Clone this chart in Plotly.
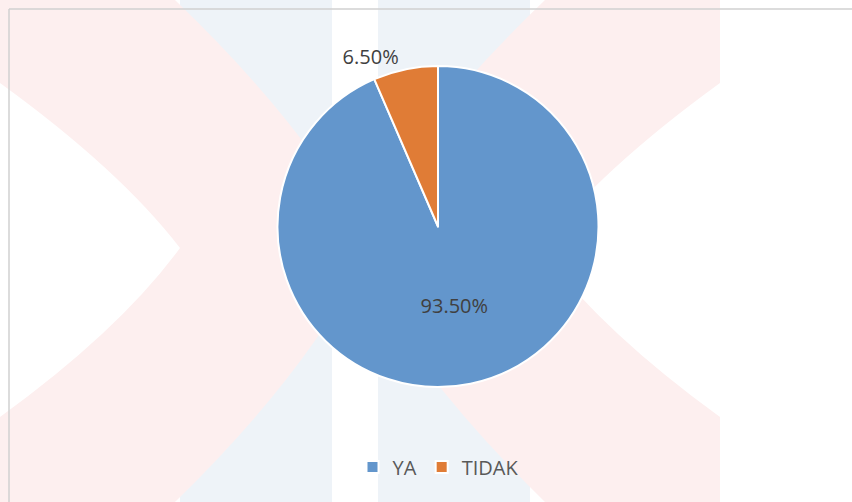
import plotly.graph_objects as go

# ---- data ----
categories = ["YA", "TIDAK"]
values = [93.5, 6.5]
labels = ["93.50%", "6.50%"]
colors = ["#6396CC", "#E07C36"]

W, H = 852, 502


def px(x):
    return x / W


def py(y):
    return 1 - y / H


fig = go.Figure()

fig.add_trace(go.Pie(
    labels=categories,
    values=values,
    text=labels,
    textinfo="text",
    texttemplate="%{text}",
    textposition=["inside", "outside"],
    sort=False,
    direction="clockwise",
    rotation=0,
    marker=dict(colors=colors, line=dict(color="white", width=2)),
    insidetextfont=dict(family="Open Sans", size=20, color="#404040"),
    outsidetextfont=dict(family="Open Sans", size=20, color="#404040"),
    domain=dict(x=[px(438 - 160.5), px(438 + 160.5)], y=[py(387), py(66)]),
    hoverinfo="label+percent",
))

shapes = []
# watermark: two pale blue vertical stripes
for x0, x1 in [(180, 332), (378, 530)]:
    shapes.append(dict(type="rect", xref="paper", yref="paper",
                       x0=px(x0), x1=px(x1), y0=0, y1=1,
                       fillcolor="#EEF3F8", line=dict(width=0), layer="below"))


def P(x, y):
    return f"{px(x):.5f},{py(y):.5f}"


# watermark: pale pink X with gently curved arms
path = (
    f"M {P(0, 0)} L {P(175, 0)} Q {P(300, 120)} {P(360, 228)} "
    f"Q {P(420, 120)} {P(545, 0)} L {P(720, 0)} L {P(720, 83)} "
    f"Q {P(600, 170)} {P(540, 248)} Q {P(600, 330)} {P(720, 417)} "
    f"L {P(720, 502)} L {P(545, 502)} Q {P(420, 380)} {P(360, 268)} "
    f"Q {P(300, 380)} {P(175, 502)} L {P(0, 502)} L {P(0, 417)} "
    f"Q {P(120, 330)} {P(180, 248)} Q {P(120, 170)} {P(0, 83)} Z"
)
shapes.append(dict(type="path", xref="paper", yref="paper", path=path,
                   fillcolor="#FDEFEF", line=dict(width=0), layer="below"))

# chart frame (top and left edges visible)
shapes.append(dict(type="line", xref="paper", yref="paper",
                   x0=px(9), x1=1, y0=py(9), y1=py(9),
                   line=dict(color="#D0D0D0", width=1.5)))
shapes.append(dict(type="line", xref="paper", yref="paper",
                   x0=px(9), x1=px(9), y0=py(9), y1=0,
                   line=dict(color="#D0D0D0", width=1.5)))

fig.update_layout(
    width=W, height=H,
    margin=dict(l=0, r=0, t=0, b=0),
    paper_bgcolor="white",
    plot_bgcolor="white",
    shapes=shapes,
    showlegend=True,
    legend=dict(orientation="h", x=px(438), xanchor="center", y=py(467), yanchor="middle",
                font=dict(family="Open Sans", size=20, color="#595959"),
                bgcolor="rgba(0,0,0,0)", itemwidth=30, tracegroupgap=0),
)

fig.write_html(
    "out.html",
    config={"displayModeBar": False},
    post_script="document.body.style.margin='0';document.body.style.overflow='hidden';",
)
